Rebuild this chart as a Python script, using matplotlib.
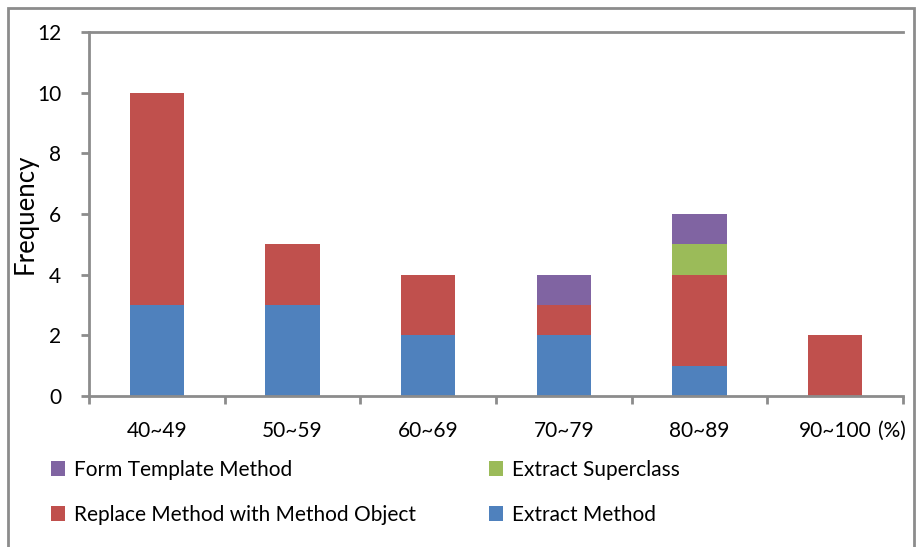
import matplotlib.pyplot as plt
import numpy as np
from matplotlib.patches import Rectangle

plt.rcParams["font.family"] = ["Lato", "DejaVu Sans"]
plt.rcParams["font.size"] = 14

categories = ["40~49", "50~59", "60~69", "70~79", "80~89", "90~100"]
extract_method = [3, 3, 2, 2, 1, 0]
replace_method = [7, 2, 2, 1, 3, 2]
extract_superclass = [0, 0, 0, 0, 1, 0]
form_template = [0, 0, 0, 1, 1, 0]

BLUE = "#4F81BD"
RED = "#C0504D"
GREEN = "#9BBB59"
PURPLE = "#8064A2"
GRAY = "#8C8C8C"

fig = plt.figure(figsize=(9.16, 5.47), dpi=100)
ax = fig.add_axes([89 / 916, 1 - 396 / 547, (903 - 89) / 916, (396 - 32) / 547])

x = np.arange(len(categories))
w = 0.4
b1 = ax.bar(x, extract_method, w, color=BLUE, label="Extract Method")
bottom = np.array(extract_method)
b2 = ax.bar(x, replace_method, w, bottom=bottom, color=RED, label="Replace Method with Method Object")
bottom = bottom + np.array(replace_method)
b3 = ax.bar(x, extract_superclass, w, bottom=bottom, color=GREEN, label="Extract Superclass")
bottom = bottom + np.array(extract_superclass)
b4 = ax.bar(x, form_template, w, bottom=bottom, color=PURPLE, label="Form Template Method")

ax.set_xlim(-0.5, len(categories) - 0.5)
ax.set_ylim(0, 12)
ax.set_yticks(range(0, 13, 2))
ax.set_xticks(x)
ax.set_xticklabels(categories)
ax.set_xticks(np.arange(-0.5, len(categories)), minor=True)
ax.tick_params(axis="x", which="major", length=0, pad=18)
ax.tick_params(axis="x", which="minor", length=6, width=2, color=GRAY, direction="out")
ax.tick_params(axis="y", length=6, width=2, color=GRAY, direction="out", pad=14)
ax.tick_params(labelsize=15)

ax.spines["right"].set_visible(False)
for s in ["top", "left", "bottom"]:
    ax.spines[s].set_color(GRAY)
    ax.spines[s].set_linewidth(2)

ax.set_ylabel("Frequency", fontsize=18.5)
ax.yaxis.set_label_coords((38 - 89) / 814, 0.5)

# put "(%)" right after the last category label
fig.canvas.draw()
bb = ax.get_xticklabels()[-1].get_window_extent()
fig.text((bb.x1 + 6) / 916, (bb.y0 + bb.y1) / 2 / 547, "(%)", ha="left", va="center", fontsize=15)

fig.legend(handles=[b4, b2, b3, b1],
           labels=["Form Template Method", "Replace Method with Method Object",
                   "Extract Superclass", "Extract Method"],
           ncol=2, loc="upper left", bbox_to_anchor=(32 / 916, 1 - 441 / 547),
           frameon=False, fontsize=15, handlelength=0.7, handleheight=0.7,
           handletextpad=0.4, labelspacing=1.2, columnspacing=3.5)

fig.add_artist(Rectangle((8 / 916, -0.01), (914 - 8) / 916, 1 - 8 / 547 + 0.01,
                         transform=fig.transFigure, fill=False, edgecolor=GRAY, linewidth=2))

fig.savefig("out.png", dpi=100)
